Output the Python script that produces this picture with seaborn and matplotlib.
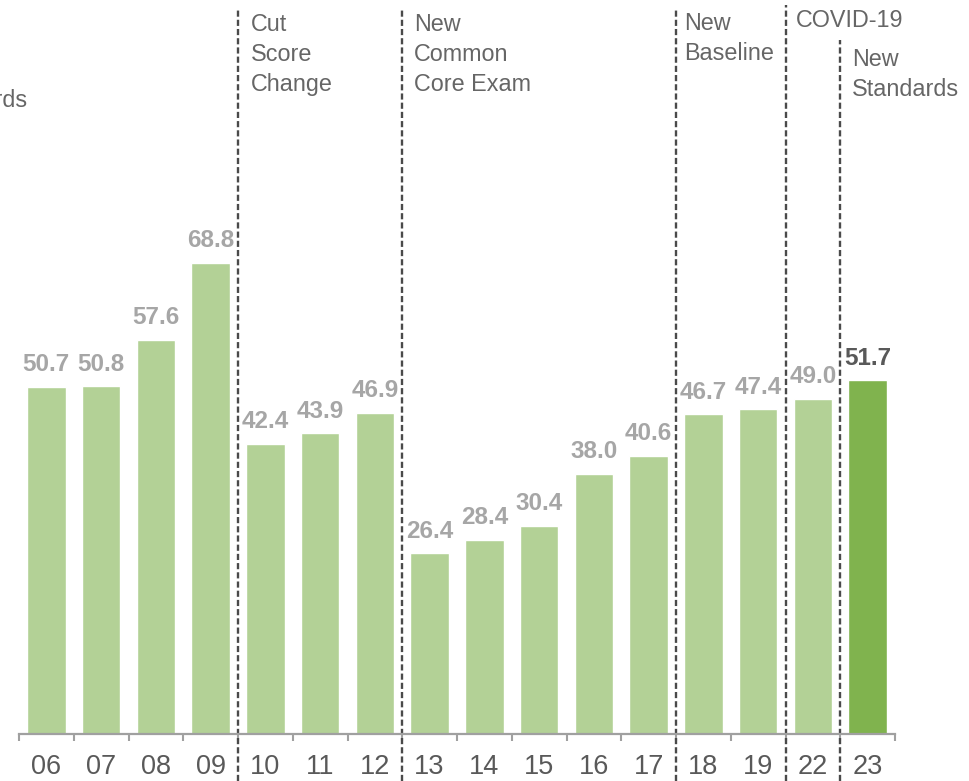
import matplotlib
matplotlib.use("Agg")
import matplotlib.pyplot as plt
import seaborn as sns
import pandas as pd

years = ["06", "07", "08", "09", "10", "11", "12", "13", "14", "15", "16", "17", "18", "19", "22", "23"]
values = [50.7, 50.8, 57.6, 68.8, 42.4, 43.9, 46.9, 26.4, 28.4, 30.4, 38.0, 40.6, 46.7, 47.4, 49.0, 51.7]
highlight = "23"

# divider positions (between categories) and annotation texts
dividers = [3.5, 6.5, 11.5, 13.5, 14.5]
notes = [
    ["Cut", "Score", "Change"],
    ["New", "Common", "Core Exam"],
    ["New", "Baseline"],
    ["COVID-19"],
    ["New", "Standards"],
]

sns.set_theme(style="white")
plt.rcParams["font.family"] = ["Liberation Sans", "DejaVu Sans"]

W, H = 969, 781
fig = plt.figure(figsize=(W / 100, H / 100), dpi=100)
base_px = 734
left_px, right_px = 19, 895
ax = fig.add_axes([left_px / W, (H - base_px) / H, (right_px - left_px) / W, base_px / H])

light = "#B3D196"
dark = "#80B34E"
df = pd.DataFrame({"year": years, "value": values})
palette = {y: (dark if y == highlight else light) for y in years}
sns.barplot(data=df, x="year", y="value", hue="year", palette=palette, legend=False,
            width=0.7, saturation=1, ax=ax, order=years)

ax.set_xlim(-0.5, len(years) - 0.5)
ax.set_ylim(0, base_px / 6.846)
ax.set_xlabel("")
ax.set_ylabel("")
ax.set_yticks([])
for s in ["left", "top", "right"]:
    ax.spines[s].set_visible(False)
ax.spines["bottom"].set_color("#A0A0A0")
ax.spines["bottom"].set_linewidth(1.6)

ax.set_xticks(range(len(years)))
ax.set_xticklabels(years, fontsize=19.5, color="#595959")
ax.tick_params(axis="x", which="major", length=0, pad=14.5)
ax.set_xticks([i - 0.5 for i in range(len(years) + 1)], minor=True)
ax.tick_params(axis="x", which="minor", bottom=True, length=5, width=1.5, color="#A0A0A0")

# value labels
for i, (y, v) in enumerate(zip(years, values)):
    col = "#595959" if y == highlight else "#A6A6A6"
    ax.annotate(f"{v:.1f}", xy=(i, v), xytext=(0, 11.2), textcoords="offset points",
                ha="center", va="baseline", fontsize=17.5, fontweight="bold", color=col)

# dashed dividers
tops_px = [8, 8, 8, 5, 40]
for x, t in zip(dividers, tops_px):
    ax.axvline(x, ymin=-(H - base_px) / base_px, ymax=(base_px - t) / base_px,
               color="#4A4A4A", lw=1.7, linestyle=(0, (2.6, 1.3)), clip_on=False)

# annotation texts (pixel coords)
txt_color = "#666666"
note_x = [251, 414, 684, 796, 852]
note_y0 = [31, 31, 30, 27, 66]
for lines, nx, ny in zip(notes, note_x, note_y0):
    for k, line in enumerate(lines):
        fig.text(nx / W, 1 - (ny + 30 * k) / H, line, ha="left", va="baseline",
                 fontsize=16.8, color=txt_color)

# partially visible label at left edge (cut off in the reference as well)
fig.text(28 / W, 1 - 107 / H, "Standards", ha="right", va="baseline", fontsize=16.8, color=txt_color)

fig.savefig("out.png", dpi=100)
